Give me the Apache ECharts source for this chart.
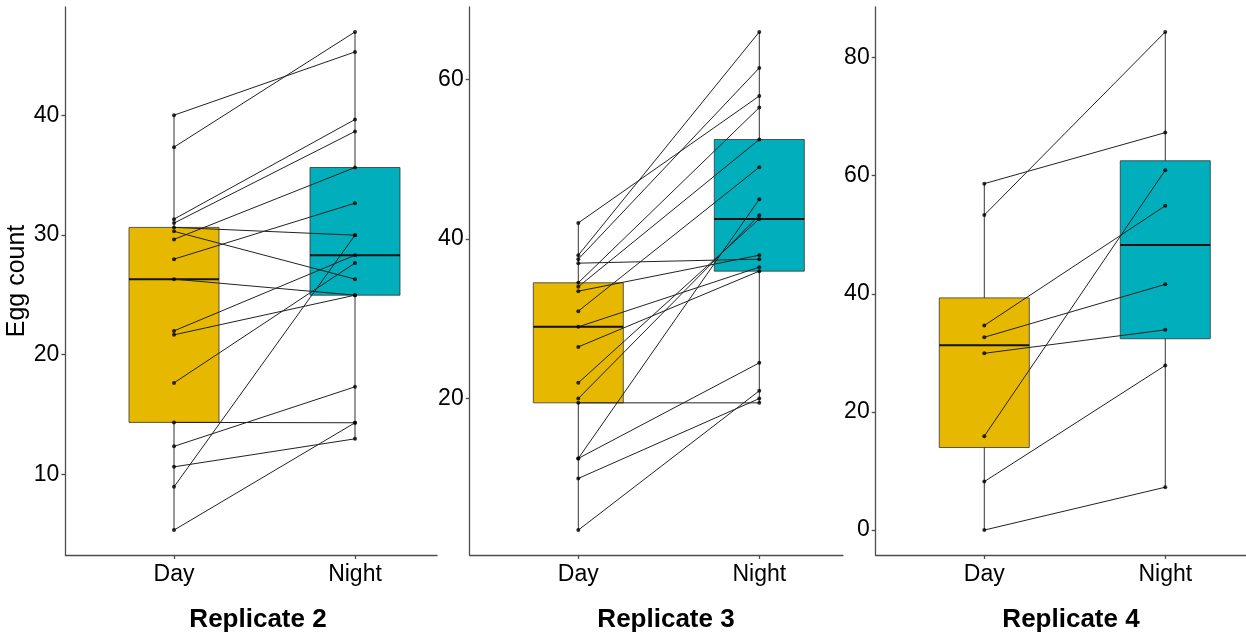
<!DOCTYPE html>
<html><head><meta charset="utf-8">
<script src="https://cdn.jsdelivr.net/npm/echarts@6/dist/echarts.min.js"></script>
<style>html,body{margin:0;padding:0;background:#fff}#c{width:1246px;height:639px}</style>
</head><body><div id="c"></div>
<script>
// ---------- data ----------
const groups = ['Day', 'Night'];
const replicates = ['Replicate 2', 'Replicate 3', 'Replicate 4'];
const yAxisTitle = 'Egg count';

// paired values: index i of Day is linked to index i of Night
const rep2Day   = [40.0, 37.33, 31.32, 30.99, 30.63, 30.30, 29.63, 27.98, 26.31, 21.99, 21.66, 17.65, 14.35, 12.35, 10.64, 8.97, 5.36];
const rep2Night = [45.28, 46.95, 39.64, 38.64, 29.98, 26.31, 35.63, 32.65, 24.97, 28.31, 24.97, 27.65, 14.32, 17.32, 12.98, 29.98, 14.32];

const rep3Day   = [42.0, 37.96, 37.46, 36.96, 34.5, 34.0, 33.45, 30.95, 28.98, 26.47, 21.97, 20.0, 19.46, 12.5, 12.5, 9.99, 3.52];
const rep3Night = [57.9, 65.93, 61.42, 37.46, 56.45, 52.45, 37.96, 48.98, 36.46, 35.96, 42.5, 42.97, 19.46, 44.97, 24.47, 20.0, 20.97];

const rep4Day   = [58.65, 53.33, 34.64, 32.65, 29.93, 15.9, 8.21, 0];
const rep4Night = [67.29, 84.34, 54.9, 41.6, 33.9, 60.94, 27.87, 7.26];

const rep2Ticks = [10, 20, 30, 40];
const rep3Ticks = [20, 40, 60];
const rep4Ticks = [0, 20, 40, 60, 80];

const groupColors = ['#E7B800', '#00AFBB'];

// ---------- layout (not data) ----------
const FONT = 'Liberation Sans, Arial, sans-serif';
const gridLeft = [65.4, 469.7, 875.7];
const xMaxes = [2.453, 2.462, 2.446];
const PX_PER_UNIT = 181;
const gridTop = 7, gridHeight = 548;
const titleX = [258, 666, 1071], titleY = 620;

const panels = [
  {day: rep2Day, night: rep2Night, ticks: rep2Ticks},
  {day: rep3Day, night: rep3Night, ticks: rep3Ticks},
  {day: rep4Day, night: rep4Night, ticks: rep4Ticks}
];

function quantile(sorted, p) {
  const h = (sorted.length - 1) * p;
  const lo = Math.floor(h);
  const hi = Math.min(lo + 1, sorted.length - 1);
  return sorted[lo] + (h - lo) * (sorted[hi] - sorted[lo]);
}
function boxStats(x, arr) {
  const s = arr.slice().sort((a, b) => a - b);
  const q1 = quantile(s, 0.25), med = quantile(s, 0.5), q3 = quantile(s, 0.75);
  const iqr = q3 - q1;
  const lf = q1 - 1.5 * iqr, uf = q3 + 1.5 * iqr;
  const inside = s.filter(v => v >= lf && v <= uf);
  return [x, inside[0], q1, med, q3, inside[inside.length - 1]];
}

const grids = [], xAxes = [], yAxes = [], series = [], graphics = [];
const axisLineStyle = {color: '#4d4d4d', width: 1.3};

panels.forEach((p, i) => {
  grids.push({left: gridLeft[i], top: gridTop, height: gridHeight,
              width: (xMaxes[i] - 0.4) * PX_PER_UNIT, containLabel: false});
  const all = p.day.concat(p.night);
  const lo = Math.min(...all), hi = Math.max(...all), pad = 0.05 * (hi - lo);
  xAxes.push({
    type: 'value', gridIndex: i, min: 0.4, max: xMaxes[i],
    splitLine: {show: false},
    axisLine: {show: true, onZero: false, lineStyle: axisLineStyle},
    axisTick: {show: true, length: 4, lineStyle: axisLineStyle, customValues: [1, 2]},
    axisLabel: {customValues: [1, 2], formatter: v => groups[Math.round(v) - 1],
                fontSize: 23, color: '#000', fontFamily: FONT, margin: 8}
  });
  yAxes.push({
    type: 'value', gridIndex: i, min: lo - pad, max: hi + pad,
    splitLine: {show: false},
    axisLine: {show: true, onZero: false, lineStyle: axisLineStyle},
    axisTick: {show: true, length: 4, lineStyle: axisLineStyle, customValues: p.ticks},
    axisLabel: {customValues: p.ticks, fontSize: 23, color: '#000', fontFamily: FONT, margin: 6},
    name: i === 0 ? yAxisTitle : '',
    nameLocation: 'middle', nameGap: 30, nameRotate: 90,
    nameTextStyle: {fontSize: 25, color: '#000', fontFamily: FONT}
  });

  // boxes
  series.push({
    type: 'custom', xAxisIndex: i, yAxisIndex: i, z: 1,
    data: [boxStats(1, p.day), boxStats(2, p.night)],
    renderItem: function (params, api) {
      const x = api.value(0);
      const pMin = api.coord([x, api.value(1)]);
      const pQ1 = api.coord([x, api.value(2)]);
      const pMed = api.coord([x, api.value(3)]);
      const pQ3 = api.coord([x, api.value(4)]);
      const pMax = api.coord([x, api.value(5)]);
      const hw = 45;
      const c = groupColors[Math.round(x) - 1];
      return {
        type: 'group',
        children: [
          {type: 'line', shape: {x1: pMin[0], y1: pMin[1], x2: pMax[0], y2: pMax[1]},
           style: {stroke: '#333', lineWidth: 1}},
          {type: 'rect', shape: {x: pQ3[0] - hw, y: pQ3[1], width: 2 * hw, height: pQ1[1] - pQ3[1]},
           style: {fill: c, stroke: '#333', lineWidth: 0.8}},
          {type: 'line', shape: {x1: pMed[0] - hw, y1: pMed[1], x2: pMed[0] + hw, y2: pMed[1]},
           style: {stroke: '#111', lineWidth: 2}}
        ]
      };
    }
  });

  // paired lines
  series.push({
    type: 'custom', xAxisIndex: i, yAxisIndex: i, z: 2,
    data: p.day.map((d, k) => [d, p.night[k]]),
    encode: {x: -1, y: [0, 1]},
    renderItem: function (params, api) {
      const a = api.coord([1, api.value(0)]);
      const b = api.coord([2, api.value(1)]);
      return {type: 'line', shape: {x1: a[0], y1: a[1], x2: b[0], y2: b[1]},
              style: {stroke: '#222', lineWidth: 1}};
    }
  });

  // points
  series.push({
    type: 'scatter', xAxisIndex: i, yAxisIndex: i, z: 3,
    symbol: 'circle', symbolSize: 4,
    itemStyle: {color: '#000'},
    data: p.day.map(v => [1, v]).concat(p.night.map(v => [2, v]))
  });

  graphics.push({
    type: 'text', x: titleX[i], y: titleY,
    style: {text: replicates[i], fontSize: 26, fontWeight: 'bold', fill: '#000',
            fontFamily: FONT, textAlign: 'center', textVerticalAlign: 'middle'}
  });
});

const chart = echarts.init(document.getElementById('c'), null, {renderer: 'canvas'});
chart.setOption({
  backgroundColor: '#fff',
  animation: false,
  grid: grids, xAxis: xAxes, yAxis: yAxes, series: series, graphic: graphics
});
</script></body></html>
